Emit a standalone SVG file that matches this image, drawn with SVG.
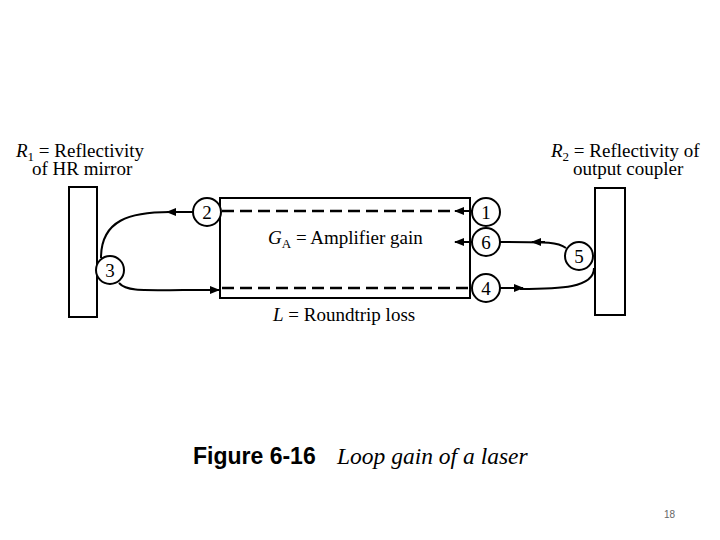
<svg xmlns="http://www.w3.org/2000/svg" width="720" height="540" viewBox="0 0 720 540">
<style>
.s{font-family:"Liberation Serif",serif;font-size:19px;fill:#000}
.n{font-family:"Liberation Serif",serif;font-size:19px;fill:#000;text-anchor:middle}
.ln{fill:none;stroke:#000;stroke-width:2}
.d{fill:none;stroke:#000;stroke-width:2.5;stroke-dasharray:12,6}
.c{fill:#fff;stroke:#000;stroke-width:2}
.b{fill:#fff;stroke:#000;stroke-width:2}
</style>
<defs>
<marker id="a" markerWidth="10" markerHeight="8" refX="9" refY="4" orient="auto" markerUnits="userSpaceOnUse"><path d="M0,0L10,4L0,8z" fill="#000"/></marker>
</defs>
<rect width="720" height="540" fill="#fff"/>
<g id="mirror1"><rect class="b" x="69" y="187" width="28" height="130"/></g>
<g id="mirror2"><rect class="b" x="595" y="188" width="30" height="127"/></g>
<g id="amp"><rect class="b" x="220" y="198" width="250" height="100"/></g>
<g id="connectors">
<line class="d" x1="222" y1="211" x2="452" y2="211"/>
<line class="ln" x1="472" y1="211" x2="455" y2="211" marker-end="url(#a)"/>
<line class="d" x1="222" y1="288" x2="470" y2="288"/>
<line class="ln" x1="193" y1="212" x2="167" y2="212" marker-end="url(#a)"/>
<path class="ln" d="M170,212 C130,212 101,220 101,258"/>
<path class="ln" d="M119,283 C127,292 140,290 219,290" marker-end="url(#a)"/>
<line class="ln" x1="472" y1="242" x2="455" y2="242" marker-end="url(#a)"/>
<path class="ln" d="M566,248 C558,242 550,242 500,242"/>
<line class="ln" x1="545" y1="242" x2="532" y2="242" marker-end="url(#a)"/>
<line class="ln" x1="500" y1="288" x2="523" y2="288" marker-end="url(#a)"/>
<path class="ln" d="M520,289 C560,289 594,288 594,268"/>
</g>
<g id="n1"><circle class="c" cx="486" cy="212" r="14"/><text class="n" x="486" y="219">1</text></g>
<g id="n2"><circle class="c" cx="207" cy="212" r="14"/><text class="n" x="207" y="219">2</text></g>
<g id="n3"><circle class="c" cx="110" cy="270" r="14"/><text class="n" x="110" y="277">3</text></g>
<g id="n4"><circle class="c" cx="486" cy="288" r="14"/><text class="n" x="486" y="295">4</text></g>
<g id="n5"><circle class="c" cx="579" cy="256" r="14"/><text class="n" x="579" y="263">5</text></g>
<g id="n6"><circle class="c" cx="486" cy="242" r="14"/><text class="n" x="486" y="249">6</text></g>
<g id="labels">
<text class="s" x="16" y="157"><tspan font-style="italic">R</tspan><tspan font-size="13" dy="4">1</tspan><tspan dy="-4"> = Reflectivity</tspan></text>
<text class="s" x="32" y="175">of HR mirror</text>
<text class="s" x="551" y="157"><tspan font-style="italic">R</tspan><tspan font-size="13" dy="4">2</tspan><tspan dy="-4"> = Reflectivity of</tspan></text>
<text class="s" x="573" y="175">output coupler</text>
<text class="s" x="268" y="244"><tspan font-style="italic">G</tspan><tspan font-size="13" dy="4">A</tspan><tspan dy="-4"> = Amplifier gain</tspan></text>
<text class="s" x="273" y="321"><tspan font-style="italic">L</tspan> = Roundtrip loss</text>
<text x="193" y="464" font-family="Liberation Sans,sans-serif" font-size="23" font-weight="bold">Figure 6-16</text>
<text x="337" y="464" font-family="Liberation Serif,serif" font-size="23.5" font-style="italic">Loop gain of a laser</text>
<text x="664" y="518" font-family="Liberation Sans,sans-serif" font-size="10" fill="#666">18</text>
</g>
</svg>
